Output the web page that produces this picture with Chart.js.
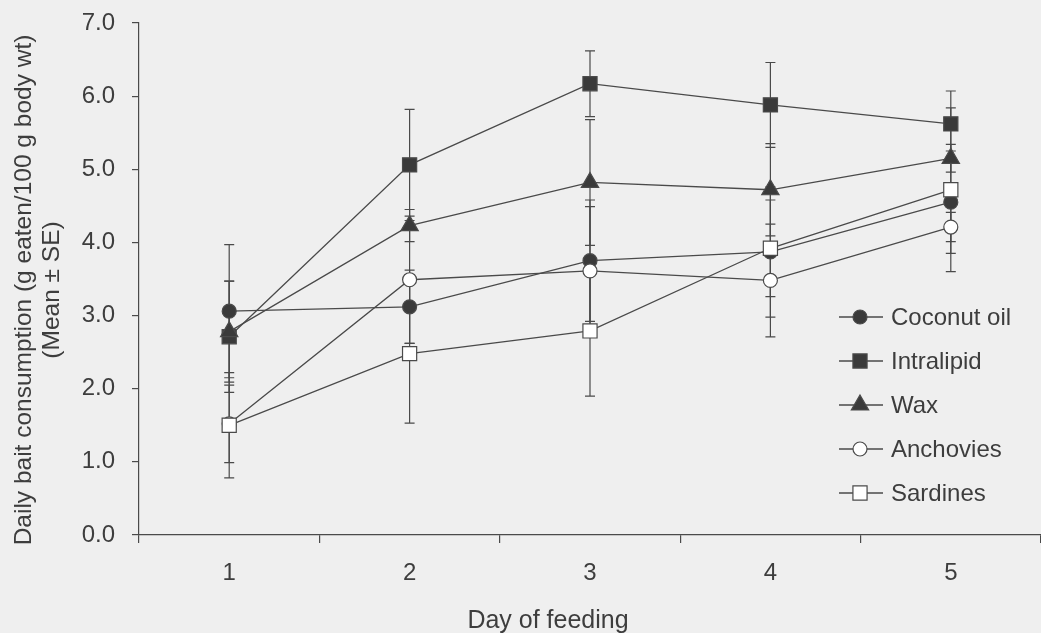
<!DOCTYPE html>
<html>
<head>
<meta charset="utf-8">
<script src="https://cdn.jsdelivr.net/npm/chart.js@4/dist/chart.umd.min.js"></script>
<style>
  html, body { margin: 0; padding: 0; background: #efefef; }
  #wrap { width: 1041px; height: 633px; }
</style>
</head>
<body>
<div id="wrap"><canvas id="c" width="1041" height="633"></canvas></div>
<script>
// Day of feeding
const days = ['1', '2', '3', '4', '5'];

// Mean daily bait consumption (g eaten / 100 g body wt) and standard errors
const coconutOil   = [3.06, 3.12, 3.75, 3.87, 4.55];
const coconutOilSE = [0.91, 0.50, 0.83, 0.89, 0.70];
const intralipid   = [2.71, 5.06, 6.17, 5.88, 5.62];
const intralipidSE = [0.76, 0.76, 0.45, 0.58, 0.45];
const wax          = [2.78, 4.23, 4.82, 4.72, 5.15];
const waxSE        = [0.69, 0.22, 0.86, 0.63, 0.19];
const anchovies    = [1.52, 3.49, 3.61, 3.48, 4.21];
const anchoviesSE  = [0.53, 0.87, 0.88, 0.77, 0.20];
const sardines     = [1.50, 2.48, 2.79, 3.92, 4.72];
const sardinesSE   = [0.72, 0.95, 0.89, 0.66, 1.12];

const yTicks = [0, 1, 2, 3, 4, 5, 6, 7];

const xTitle = 'Day of feeding';
const yTitle = ['Daily bait consumption (g eaten/100 g body wt)', '(Mean \u00b1 SE)'];

const INK = '#4a4a4a';
const TEXT = '#3d3d3d';
const DARK = '#3a3a3a';
const FONT = 'Liberation Sans, Arial, sans-serif';

function series(label, data, se, style, radius, fill, order) {
  return {
    label, data, se, order,
    borderColor: INK,
    borderWidth: 1.3,
    pointStyle: style,
    pointRadius: radius,
    pointHoverRadius: radius,
    pointBackgroundColor: fill,
    pointBorderColor: INK,
    pointBorderWidth: 1.2,
    fill: false,
    tension: 0
  };
}

const datasets = [
  series('Coconut oil', coconutOil, coconutOilSE, 'circle',   7,  DARK,   5),
  series('Intralipid',  intralipid, intralipidSE, 'rect',     10, DARK,   4),
  series('Wax',         wax,        waxSE,        'triangle', 10, DARK,   3),
  series('Anchovies',   anchovies,  anchoviesSE,  'circle',   7,  '#ffffff', 2),
  series('Sardines',    sardines,   sardinesSE,   'rect',     10, '#ffffff', 1)
];

// Vertical ± SE whiskers with short caps, drawn beneath the markers
const errorBars = {
  id: 'errorBars',
  beforeDatasetsDraw(chart) {
    const ctx = chart.ctx;
    const y = chart.scales.y;
    ctx.save();
    ctx.strokeStyle = INK;
    ctx.lineWidth = 1.2;
    chart.data.datasets.forEach((ds, i) => {
      const meta = chart.getDatasetMeta(i);
      meta.data.forEach((pt, j) => {
        const v = ds.data[j], e = ds.se[j];
        const top = y.getPixelForValue(v + e);
        const bot = y.getPixelForValue(v - e);
        const x = pt.x;
        ctx.beginPath();
        ctx.moveTo(x, top); ctx.lineTo(x, bot);
        ctx.moveTo(x - 5, top); ctx.lineTo(x + 5, top);
        ctx.moveTo(x - 5, bot); ctx.lineTo(x + 5, bot);
        ctx.stroke();
      });
    });
    ctx.restore();
  }
};

function drawMarker(ctx, ds, x, y) {
  ctx.save();
  ctx.fillStyle = ds.pointBackgroundColor;
  ctx.strokeStyle = ds.pointBorderColor;
  ctx.lineWidth = ds.pointBorderWidth;
  if (Chart.helpers && Chart.helpers.drawPoint) {
    Chart.helpers.drawPoint(ctx, {
      pointStyle: ds.pointStyle, radius: ds.pointRadius, rotation: 0,
      borderWidth: ds.pointBorderWidth
    }, x, y);
  } else {
    const r = ds.pointRadius;
    ctx.beginPath();
    if (ds.pointStyle === 'circle') ctx.arc(x, y, r, 0, Math.PI * 2);
    else if (ds.pointStyle === 'rect') { const s = r * Math.SQRT1_2; ctx.rect(x - s, y - s, 2 * s, 2 * s); }
    else { ctx.moveTo(x, y - r); ctx.lineTo(x + r * 0.866, y + r / 2); ctx.lineTo(x - r * 0.866, y + r / 2); ctx.closePath(); }
    ctx.fill(); ctx.stroke();
  }
  ctx.restore();
}

// Legend inside the plot (lower right) and the two axis titles
const annotations = {
  id: 'annotations',
  afterDraw(chart) {
    const ctx = chart.ctx;
    const x0 = 839, x1 = 883, xm = 860, xt = 891;
    let yRow = 317;
    ctx.save();
    ctx.font = '24px ' + FONT;
    ctx.textBaseline = 'middle';
    chart.data.datasets.forEach(ds => {
      ctx.strokeStyle = INK;
      ctx.lineWidth = 1.3;
      ctx.beginPath();
      ctx.moveTo(x0, yRow); ctx.lineTo(x1, yRow);
      ctx.stroke();
      drawMarker(ctx, ds, xm, yRow);
      ctx.fillStyle = TEXT;
      ctx.fillText(ds.label, xt, yRow + 1);
      yRow += 44;
    });

    ctx.fillStyle = TEXT;
    ctx.textAlign = 'center';
    ctx.font = '25px ' + FONT;
    ctx.fillText(xTitle, 548, 621);

    ctx.font = '24.5px ' + FONT;
    yTitle.forEach((line, k) => {
      ctx.save();
      ctx.translate(24 + k * 28, 290);
      ctx.rotate(-Math.PI / 2);
      ctx.fillText(line, 0, 0);
      ctx.restore();
    });
    ctx.restore();
  }
};

new Chart(document.getElementById('c'), {
  type: 'line',
  data: { labels: days, datasets },
  plugins: [errorBars, annotations],
  options: {
    responsive: false,
    animation: false,
    events: [],
    layout: { autoPadding: false, padding: { top: 23, right: -2, bottom: 0, left: 0 } },
    plugins: { legend: { display: false }, tooltip: { enabled: false } },
    scales: {
      x: {
        type: 'category',
        offset: true,
        grid: {
          offset: true,
          drawOnChartArea: false,
          drawTicks: true,
          tickLength: 8,
          color: INK,
          lineWidth: 1.2
        },
        border: { display: true, color: INK, width: 1.2 },
        ticks: { color: TEXT, font: { family: FONT, size: 24 }, padding: 16 },
        afterFit(scale) {
          scale.height = 633 - 535;
          scale.paddingLeft = 0;
          scale.paddingRight = 0;
        }
      },
      y: {
        min: 0,
        max: 7,
        afterBuildTicks(scale) { scale.ticks = yTicks.map(v => ({ value: v })); },
        grid: {
          drawOnChartArea: false,
          drawTicks: true,
          tickLength: 7,
          color: INK,
          lineWidth: 1.2
        },
        border: { display: true, color: INK, width: 1.2 },
        ticks: {
          color: TEXT,
          font: { family: FONT, size: 24 },
          padding: 17,
          callback: v => Number(v).toFixed(1)
        },
        afterFit(scale) {
          scale.width = 139;
          scale.paddingTop = 0;
          scale.paddingBottom = 0;
        }
      }
    }
  }
});
</script>
</body>
</html>
